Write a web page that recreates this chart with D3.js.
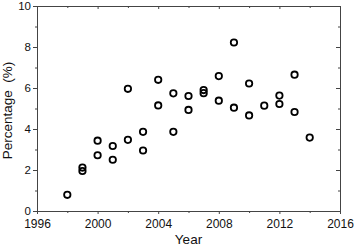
<!DOCTYPE html>
<html>
<head>
<meta charset="utf-8">
<script src="https://cdn.jsdelivr.net/npm/d3@7"></script>
<style>
  body { margin: 0; background: #fff; }
  svg text { font-family: "Liberation Sans", Arial, sans-serif; fill: #111; }
</style>
</head>
<body>
<div id="chart"></div>
<script>
// values
const years = [1998, 1999, 1999, 2000, 2000, 2001, 2001, 2002, 2002, 2003, 2003,
               2004, 2004, 2005, 2005, 2006, 2006, 2007, 2007, 2008, 2008,
               2009, 2009, 2010, 2010, 2011, 2012, 2012, 2013, 2013, 2014];
const percentages = [0.79, 2.12, 1.95, 3.43, 2.72, 3.17, 2.5, 3.47, 5.96, 3.86, 2.95,
                     6.4, 5.15, 5.74, 3.86, 5.61, 4.93, 5.9, 5.75, 6.58, 5.38,
                     8.22, 5.04, 6.22, 4.66, 5.14, 5.63, 5.22, 6.65, 4.83, 3.58];
const xTicks = [1996, 2000, 2004, 2008, 2012, 2016];
const yTicks = [0, 2, 4, 6, 8, 10];

const width = 354, height = 247;
const plotLeft = 37, plotRight = 340, plotTop = 6, plotBottom = 211;
const axisColor = "#444";

const svg = d3.select("#chart").append("svg")
    .attr("width", width)
    .attr("height", height);

const x = d3.scaleLinear().domain([1996, 2016]).range([plotLeft, plotRight]);
const y = d3.scaleLinear().domain([0, 10]).range([plotBottom, plotTop]);

// minor ticks every 2 years / every 1 percent
const xMinor = d3.range(1998, 2016, 4);
const yMinor = d3.range(1, 10, 2);

function styleAxis(g) {
    g.selectAll("path, line").attr("stroke", axisColor).attr("stroke-width", 1);
    g.selectAll("text").attr("font-size", 12).attr("fill", "#111")
        .style("font-family", "Liberation Sans, Arial, sans-serif");
}

// bottom axis
svg.append("g")
    .attr("transform", "translate(0," + plotBottom + ")")
    .call(d3.axisBottom(x).tickValues(xTicks).tickFormat(d3.format("d"))
        .tickSizeInner(3).tickSizeOuter(0).tickPadding(5))
    .call(styleAxis);
svg.append("g")
    .attr("transform", "translate(0," + plotBottom + ")")
    .call(d3.axisBottom(x).tickValues(xMinor).tickFormat("").tickSizeInner(2).tickSizeOuter(0))
    .call(g => g.select(".domain").remove())
    .call(styleAxis);

// left axis
svg.append("g")
    .attr("transform", "translate(" + plotLeft + ",0)")
    .call(d3.axisLeft(y).tickValues(yTicks).tickSizeInner(4).tickSizeOuter(0).tickPadding(2))
    .call(styleAxis)
    .call(g => g.selectAll("text").attr("font-size", 11.5));
svg.append("g")
    .attr("transform", "translate(" + plotLeft + ",0)")
    .call(d3.axisLeft(y).tickValues(yMinor).tickFormat("").tickSizeInner(2).tickSizeOuter(0))
    .call(g => g.select(".domain").remove())
    .call(styleAxis);

// top axis, ticks inside
svg.append("g")
    .attr("transform", "translate(0," + plotTop + ")")
    .call(d3.axisTop(x).tickValues(xTicks).tickFormat("").tickSizeInner(-3).tickSizeOuter(0))
    .call(styleAxis);
svg.append("g")
    .attr("transform", "translate(0," + plotTop + ")")
    .call(d3.axisTop(x).tickValues(xMinor).tickFormat("").tickSizeInner(-2).tickSizeOuter(0))
    .call(g => g.select(".domain").remove())
    .call(styleAxis);

// right axis, ticks inside
svg.append("g")
    .attr("transform", "translate(" + plotRight + ",0)")
    .call(d3.axisRight(y).tickValues(yTicks).tickFormat("").tickSizeInner(-4).tickSizeOuter(0))
    .call(styleAxis);
svg.append("g")
    .attr("transform", "translate(" + plotRight + ",0)")
    .call(d3.axisRight(y).tickValues(yMinor).tickFormat("").tickSizeInner(-2).tickSizeOuter(0))
    .call(g => g.select(".domain").remove())
    .call(styleAxis);

// axis titles
svg.append("text")
    .attr("x", 188.5)
    .attr("y", 244)
    .attr("text-anchor", "middle")
    .attr("font-size", 13.5)
    .text("Year");

svg.append("text")
    .attr("transform", "translate(12," + ((plotTop + plotBottom) / 2 + 2) + ") rotate(-90)")
    .attr("text-anchor", "middle")
    .attr("font-size", 13.5)
    .style("white-space", "pre")
    .text("Percentage  (%)");

// points
svg.append("g")
    .selectAll("circle")
    .data(years.map((d, i) => [d, percentages[i]]))
    .enter()
    .append("circle")
    .attr("cx", d => x(d[0]))
    .attr("cy", d => y(d[1]))
    .attr("r", 3.2)
    .attr("fill", "none")
    .attr("stroke", "#000")
    .attr("stroke-width", 1.8);
</script>
</body>
</html>
